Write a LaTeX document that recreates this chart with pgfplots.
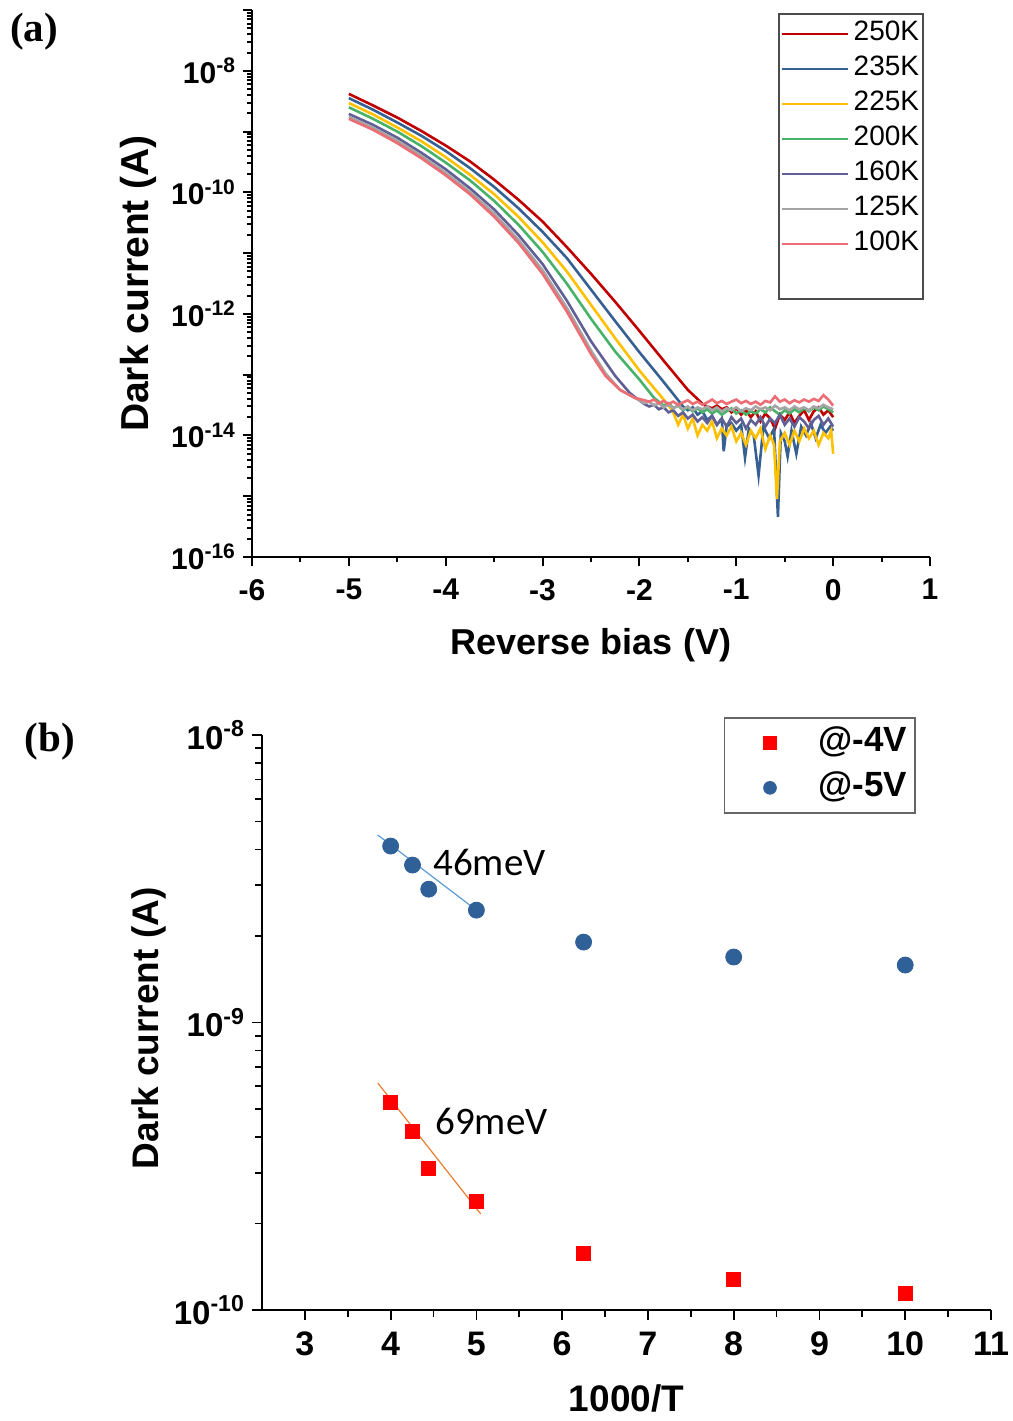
\documentclass[border=0pt]{standalone}
\usepackage{fontspec}
\setmainfont{Liberation Sans}
\newfontfamily\serifbf{Liberation Serif}
\newfontfamily\carl{Carlito}
\usepackage{pgfplots}
\pgfplotsset{compat=1.18}
\definecolor{c250}{RGB}{192,0,0}
\definecolor{c235}{RGB}{54,96,146}
\definecolor{c225}{RGB}{255,192,0}
\definecolor{c200}{RGB}{72,178,104}
\definecolor{c160}{RGB}{96,96,150}
\definecolor{c125}{RGB}{165,165,165}
\definecolor{c100}{RGB}{236,110,116}
\definecolor{bblue}{RGB}{47,96,152}
\definecolor{fitblue}{RGB}{91,155,213}
\definecolor{fitorange}{RGB}{237,125,49}
\newcommand{\fs}[1]{\fontsize{#1}{#1}\selectfont}
\begin{document}
\begin{tikzpicture}
\useasboundingbox (0,0) rectangle (506.5pt,-710.5pt);
\node[font=\serifbf\bfseries\fs{20.5}] at (17pt,-16pt) {(a)};
\node[font=\serifbf\bfseries\fs{20.5}] at (25pt,-371pt) {(b)};

\begin{axis}[
  at={(126pt,-278.5pt)}, anchor=south west,
  scale only axis, width=339pt, height=273.5pt,
  ymode=log, xmin=-6, xmax=1, ymin=1e-16, ymax=1e-7,
  axis x line*=bottom, axis y line*=left,
  axis line style={line width=1.2pt,-},
  tick align=outside,
  major tick length=4.5pt, minor tick length=2.5pt,
  tick style={black, line width=1pt},
  xtick={-6,-5,-4,-3,-2,-1,0,1}, xticklabels={-6,-5,-4,-3,-2,-1,0,1},
  minor x tick num=1,
  ytick={1e-16,1e-15,1e-14,1e-13,1e-12,1e-11,1e-10,1e-9,1e-8,1e-7},
  yticklabels={10\textsuperscript{-16},,10\textsuperscript{-14},,10\textsuperscript{-12},,10\textsuperscript{-10},,10\textsuperscript{-8},},
  minor ytick={2e-16,3e-16,4e-16,5e-16,6e-16,7e-16,8e-16,9e-16,
    2e-15,3e-15,4e-15,5e-15,6e-15,7e-15,8e-15,9e-15,
    2e-14,3e-14,4e-14,5e-14,6e-14,7e-14,8e-14,9e-14,
    2e-13,3e-13,4e-13,5e-13,6e-13,7e-13,8e-13,9e-13,
    2e-12,3e-12,4e-12,5e-12,6e-12,7e-12,8e-12,9e-12,
    2e-11,3e-11,4e-11,5e-11,6e-11,7e-11,8e-11,9e-11,
    2e-10,3e-10,4e-10,5e-10,6e-10,7e-10,8e-10,9e-10,
    2e-9,3e-9,4e-9,5e-9,6e-9,7e-9,8e-9,9e-9,
    2e-8,3e-8,4e-8,5e-8,6e-8,7e-8,8e-8,9e-8},
  yticklabel style={font=\bfseries\fs{15}},
  xticklabel style={font=\bfseries\fs{15}, yshift=-3pt},
  xlabel={Reverse bias (V)}, ylabel={Dark current (A)},
  xlabel style={font=\bfseries\fs{18}, at={(axis description cs:0.5,-0.161)}, anchor=center},
  ylabel style={font=\bfseries\fs{19.5}, at={(axis description cs:-0.167,0.5)}, anchor=center},
  legend style={at={(axis description cs:0.991,0.9945)}, anchor=north east,
    draw=black!70, line width=0.8pt, inner xsep=0pt, inner ysep=1.25pt, font=\fs{14},
    nodes={inner xsep=2pt, inner ysep=2.25pt, text height=10pt, text depth=3pt}},
  legend cell align=left,
  legend image code/.code={\path[draw=none,fill=none] (0pt,0pt) -- (35.5pt,0pt); \draw[#1] (1.5pt,0pt) -- (34.5pt,0pt);},
  every axis plot/.append style={line width=1.3pt},
]
\addplot[c250] coordinates {(-5.00,4.17e-9) (-4.75,2.69e-9) (-4.50,1.70e-9) (-4.25,1.02e-9) (-4.00,5.89e-10) (-3.75,3.24e-10) (-3.50,1.62e-10) (-3.25,7.59e-11) (-3.00,3.31e-11) (-2.75,1.26e-11) (-2.50,4.57e-12) (-2.25,1.58e-12) (-2.00,5.25e-13) (-1.75,1.70e-13) (-1.50,5.62e-14) (-1.40,3.98e-14)
 (-1.35,3.3e-14) (-1.30,3.0e-14) (-1.25,2.8e-14) (-1.20,3.1e-14) (-1.15,2.7e-14) (-1.10,2.9e-14) (-1.05,2.4e-14) (-1.00,2.8e-14) (-0.95,2.2e-14) (-0.90,2.6e-14) (-0.85,2.0e-14) (-0.80,2.5e-14) (-0.75,1.7e-14) (-0.70,2.3e-14) (-0.65,1.9e-14) (-0.60,1.3e-14) (-0.55,2.2e-14) (-0.50,1.8e-14) (-0.45,2.4e-14) (-0.40,1.6e-14) (-0.35,2.1e-14) (-0.30,2.6e-14) (-0.25,1.8e-14) (-0.20,2.5e-14) (-0.15,2.9e-14) (-0.10,2.2e-14) (-0.05,2.6e-14) (0.00,2.0e-14)};
\addlegendentry{250K}
\addplot[c235] coordinates {(-5.00,3.55e-9) (-4.75,2.29e-9) (-4.50,1.41e-9) (-4.25,8.51e-10) (-4.00,4.79e-10) (-3.75,2.51e-10) (-3.50,1.23e-10) (-3.25,5.50e-11) (-3.00,2.24e-11) (-2.75,8.32e-12) (-2.50,2.51e-12) (-2.25,7.59e-13) (-2.00,2.34e-13) (-1.75,7.59e-14) (-1.65,4.79e-14) (-1.60,3.80e-14)
 (-1.55,3.0e-14) (-1.50,2.6e-14) (-1.45,2.9e-14) (-1.40,2.2e-14) (-1.35,2.5e-14) (-1.30,1.8e-14) (-1.25,2.1e-14) (-1.20,1.5e-14) (-1.15,1.9e-14) (-1.13,5.5e-15) (-1.10,1.4e-14) (-1.05,1.6e-14) (-1.00,1.2e-14) (-0.95,1.5e-14) (-0.91,4.3e-15) (-0.87,1.3e-14) (-0.82,1.0e-14) (-0.77,2.2e-15) (-0.72,1.4e-14) (-0.66,0.9e-14) (-0.61,1.3e-14) (-0.57,4.6e-16) (-0.54,1.1e-14) (-0.50,0.8e-14) (-0.47,4.5e-15) (-0.43,1.2e-14) (-0.38,5.0e-15) (-0.33,1.4e-14) (-0.28,1.0e-14) (-0.23,1.6e-14) (-0.18,0.9e-14) (-0.13,1.5e-14) (-0.08,1.1e-14) (-0.03,1.4e-14) (0.00,1.2e-14)};
\addlegendentry{235K}
\addplot[c225] coordinates {(-5.00,2.95e-9) (-4.75,1.91e-9) (-4.50,1.17e-9) (-4.25,6.92e-10) (-4.00,3.80e-10) (-3.75,1.95e-10) (-3.50,9.33e-11) (-3.25,3.98e-11) (-3.00,1.51e-11) (-2.75,5.01e-12) (-2.50,1.41e-12) (-2.25,3.98e-13) (-2.00,1.17e-13) (-1.85,6.03e-14) (-1.78,4.47e-14)
 (-1.72,3.4e-14) (-1.66,2.6e-14) (-1.60,1.5e-14) (-1.55,2.2e-14) (-1.50,1.3e-14) (-1.45,1.9e-14) (-1.40,1.0e-14) (-1.35,1.5e-14) (-1.30,1.2e-14) (-1.25,1.7e-14) (-1.20,0.9e-14) (-1.15,1.3e-14) (-1.10,1.0e-14) (-1.05,1.4e-14) (-1.00,0.8e-14) (-0.95,1.1e-14) (-0.90,0.7e-14) (-0.85,1.2e-14) (-0.80,0.9e-14) (-0.75,1.3e-14) (-0.70,0.6e-14) (-0.65,1.0e-14) (-0.61,0.7e-14) (-0.58,9e-16) (-0.55,0.8e-14) (-0.50,1.1e-14) (-0.45,0.7e-14) (-0.40,1.2e-14) (-0.35,0.8e-14) (-0.30,1.3e-14) (-0.25,0.9e-14) (-0.20,1.2e-14) (-0.15,0.7e-14) (-0.10,1.1e-14) (-0.05,0.9e-14) (-0.02,1.2e-14) (0.00,5e-15)};
\addlegendentry{225K}
\addplot[c200] coordinates {(-5.00,2.51e-9) (-4.75,1.62e-9) (-4.50,1.00e-9) (-4.25,5.75e-10) (-4.00,3.09e-10) (-3.75,1.58e-10) (-3.50,7.24e-11) (-3.25,2.95e-11) (-3.00,1.05e-11) (-2.75,3.16e-12) (-2.50,8.32e-13) (-2.25,2.40e-13) (-2.00,8.32e-14) (-1.90,5.25e-14) (-1.85,4.17e-14)
 (-1.80,3.6e-14) (-1.75,3.1e-14) (-1.70,3.4e-14) (-1.65,2.8e-14) (-1.60,3.1e-14) (-1.55,2.6e-14) (-1.50,2.9e-14) (-1.45,2.5e-14) (-1.40,2.8e-14) (-1.35,2.4e-14) (-1.30,2.7e-14) (-1.25,2.3e-14) (-1.20,2.6e-14) (-1.15,2.2e-14) (-1.10,2.5e-14) (-1.05,2.8e-14) (-1.00,2.3e-14) (-0.95,2.6e-14) (-0.90,2.2e-14) (-0.85,2.5e-14) (-0.80,2.3e-14) (-0.75,2.7e-14) (-0.70,2.4e-14) (-0.65,2.9e-14) (-0.60,2.5e-14) (-0.55,2.2e-14) (-0.50,2.6e-14) (-0.45,2.3e-14) (-0.40,2.7e-14) (-0.35,2.4e-14) (-0.30,2.8e-14) (-0.25,2.5e-14) (-0.20,2.9e-14) (-0.15,2.6e-14) (-0.10,3.0e-14) (-0.05,2.7e-14) (0.00,2.4e-14)};
\addlegendentry{200K}
\addplot[c160] coordinates {(-5.00,1.95e-9) (-4.75,1.29e-9) (-4.50,7.94e-10) (-4.25,4.47e-10) (-4.00,2.40e-10) (-3.75,1.17e-10) (-3.50,5.25e-11) (-3.25,2.00e-11) (-3.00,6.61e-12) (-2.75,1.66e-12) (-2.50,3.55e-13) (-2.25,9.55e-14) (-2.10,5.01e-14) (-2.02,3.98e-14)
 (-1.95,3.3e-14) (-1.90,3.0e-14) (-1.85,3.2e-14) (-1.80,2.7e-14) (-1.75,2.9e-14) (-1.70,2.4e-14) (-1.65,2.6e-14) (-1.60,2.1e-14) (-1.55,2.4e-14) (-1.50,1.9e-14) (-1.45,2.2e-14) (-1.40,1.7e-14) (-1.35,2.0e-14) (-1.30,1.6e-14) (-1.25,2.1e-14) (-1.20,1.5e-14) (-1.15,1.9e-14) (-1.10,1.4e-14) (-1.05,2.0e-14) (-1.00,1.6e-14) (-0.95,1.9e-14) (-0.90,1.3e-14) (-0.85,1.8e-14) (-0.80,1.5e-14) (-0.75,2.0e-14) (-0.70,1.4e-14) (-0.65,1.9e-14) (-0.60,1.6e-14) (-0.55,2.2e-14) (-0.50,1.5e-14) (-0.45,1.9e-14) (-0.40,1.4e-14) (-0.35,2.0e-14) (-0.30,1.7e-14) (-0.25,1.3e-14) (-0.20,1.8e-14) (-0.15,2.1e-14) (-0.10,1.5e-14) (-0.05,1.9e-14) (0.00,1.4e-14)};
\addlegendentry{160K}
\addplot[c125] coordinates {(-5.00,1.74e-9) (-4.75,1.15e-9) (-4.50,7.08e-10) (-4.25,3.98e-10) (-4.00,2.09e-10) (-3.75,1.02e-10) (-3.50,4.47e-11) (-3.25,1.66e-11) (-3.00,5.25e-12) (-2.75,1.26e-12) (-2.50,2.51e-13) (-2.35,1.05e-13) (-2.20,5.62e-14) (-2.05,4.17e-14)
 (-2.00,3.8e-14) (-1.95,3.4e-14) (-1.90,3.6e-14) (-1.85,3.1e-14) (-1.80,3.4e-14) (-1.75,2.9e-14) (-1.70,3.2e-14) (-1.65,2.8e-14) (-1.60,3.1e-14) (-1.55,2.7e-14) (-1.50,3.0e-14) (-1.45,2.6e-14) (-1.40,2.9e-14) (-1.35,2.7e-14) (-1.30,3.0e-14) (-1.25,2.6e-14) (-1.20,2.9e-14) (-1.15,2.5e-14) (-1.10,2.8e-14) (-1.05,2.6e-14) (-1.00,2.9e-14) (-0.95,2.5e-14) (-0.90,2.8e-14) (-0.85,2.6e-14) (-0.80,3.0e-14) (-0.75,2.7e-14) (-0.70,2.9e-14) (-0.65,2.6e-14) (-0.60,3.1e-14) (-0.55,2.7e-14) (-0.50,2.9e-14) (-0.45,2.6e-14) (-0.40,3.0e-14) (-0.35,2.7e-14) (-0.30,2.9e-14) (-0.25,2.6e-14) (-0.20,3.0e-14) (-0.15,2.8e-14) (-0.10,3.2e-14) (-0.05,2.9e-14) (0.00,2.7e-14)};
\addlegendentry{125K}
\addplot[c100] coordinates {(-5.00,1.62e-9) (-4.75,1.07e-9) (-4.50,6.46e-10) (-4.25,3.63e-10) (-4.00,1.91e-10) (-3.75,9.33e-11) (-3.50,3.98e-11) (-3.25,1.48e-11) (-3.00,4.57e-12) (-2.75,1.10e-12) (-2.50,2.19e-13) (-2.35,9.55e-14) (-2.20,5.62e-14) (-2.05,4.17e-14) (-1.95,3.80e-14)
 (-1.90,3.6e-14) (-1.85,3.9e-14) (-1.80,3.4e-14) (-1.75,3.7e-14) (-1.70,3.3e-14) (-1.65,3.6e-14) (-1.60,3.2e-14) (-1.55,3.5e-14) (-1.50,3.8e-14) (-1.45,3.3e-14) (-1.40,3.6e-14) (-1.35,3.2e-14) (-1.30,3.5e-14) (-1.25,3.9e-14) (-1.20,3.4e-14) (-1.15,3.7e-14) (-1.10,3.3e-14) (-1.05,3.6e-14) (-1.00,3.9e-14) (-0.95,3.4e-14) (-0.90,3.7e-14) (-0.85,3.3e-14) (-0.80,3.6e-14) (-0.75,3.2e-14) (-0.70,3.7e-14) (-0.65,3.5e-14) (-0.60,4.4e-14) (-0.55,3.6e-14) (-0.50,3.9e-14) (-0.45,3.4e-14) (-0.40,3.8e-14) (-0.35,3.5e-14) (-0.30,3.9e-14) (-0.25,3.6e-14) (-0.20,4.0e-14) (-0.15,3.7e-14) (-0.10,4.6e-14) (-0.05,3.9e-14) (0.00,3.1e-14)};
\addlegendentry{100K}
\addlegendimage{empty legend}
\addlegendentry{}
\end{axis}

\begin{axis}[
  at={(131pt,-655pt)}, anchor=south west,
  scale only axis, width=364.5pt, height=287.5pt,
  ymode=log, xmin=2.5, xmax=11, ymin=1e-10, ymax=1e-8,
  axis x line*=bottom, axis y line*=left,
  axis line style={line width=1pt,-},
  tick align=outside,
  major tick length=5pt, minor tick length=3.5pt,
  tick style={black, line width=0.9pt},
  xtick={3,4,5,6,7,8,9,10,11}, minor x tick num=1,
  xticklabel style={font=\bfseries\fs{17}, yshift=-2.5pt, /pgf/number format/assume math mode=true},
  ytick={1e-10,1e-9,1e-8},
  yticklabels={10\textsuperscript{-10},10\textsuperscript{-9},10\textsuperscript{-8}},
  minor ytick={2e-10,3e-10,4e-10,5e-10,6e-10,7e-10,8e-10,9e-10,2e-9,3e-9,4e-9,5e-9,6e-9,7e-9,8e-9,9e-9},
  yticklabel style={font=\bfseries\fs{16.5}},
  xlabel={1000/T}, ylabel={Dark current (A)},
  xlabel style={font=\bfseries\fs{18.5}, at={(axis description cs:0.5,-0.153)}, anchor=center},
  ylabel style={font=\bfseries\fs{18.5}, at={(axis description cs:-0.1557,0.49)}, anchor=center},
  legend style={at={(axis description cs:0.897,1.0313)}, anchor=north east,
    draw=black!60, line width=0.8pt, inner xsep=2pt, inner ysep=1.25pt, font=\bfseries\fs{17.5},
    nodes={inner xsep=2pt, inner ysep=2.75pt, text height=13pt, text depth=4pt}},
  legend cell align=left,
  legend image code/.code={\path[draw=none,fill=none] (0pt,0pt) -- (43pt,0pt); \draw[#1,mark size=3pt] plot coordinates {(20.75pt,0pt)};},
]
\addplot[only marks, mark=square*, mark size=3.5pt, color=red] coordinates {(4.0,5.29e-10) (4.255,4.19e-10) (4.444,3.12e-10) (5.0,2.38e-10) (6.25,1.58e-10) (8.0,1.28e-10) (10.0,1.14e-10)};
\addlegendentry{@-4V}
\addplot[only marks, mark=*, mark size=4pt, color=bblue] coordinates {(4.0,4.11e-9) (4.255,3.53e-9) (4.444,2.91e-9) (5.0,2.46e-9) (6.25,1.905e-9) (8.0,1.69e-9) (10.0,1.585e-9)};
\addlegendentry{@-5V}
\addplot[fitblue, line width=0.6pt, forget plot] coordinates {(3.85,4.49e-9) (5.0,2.46e-9)};
\addplot[fitorange, line width=0.6pt, forget plot] coordinates {(3.85,6.16e-10) (5.05,2.16e-10)};
\node[anchor=west, inner sep=0pt, font=\carl\fs{19.5}] at (axis cs:4.494,3.59e-9) {46meV};
\node[anchor=west, inner sep=0pt, font=\carl\fs{19.5}] at (axis cs:4.517,4.54e-10) {69meV};
\end{axis}
\end{tikzpicture}
\end{document}
